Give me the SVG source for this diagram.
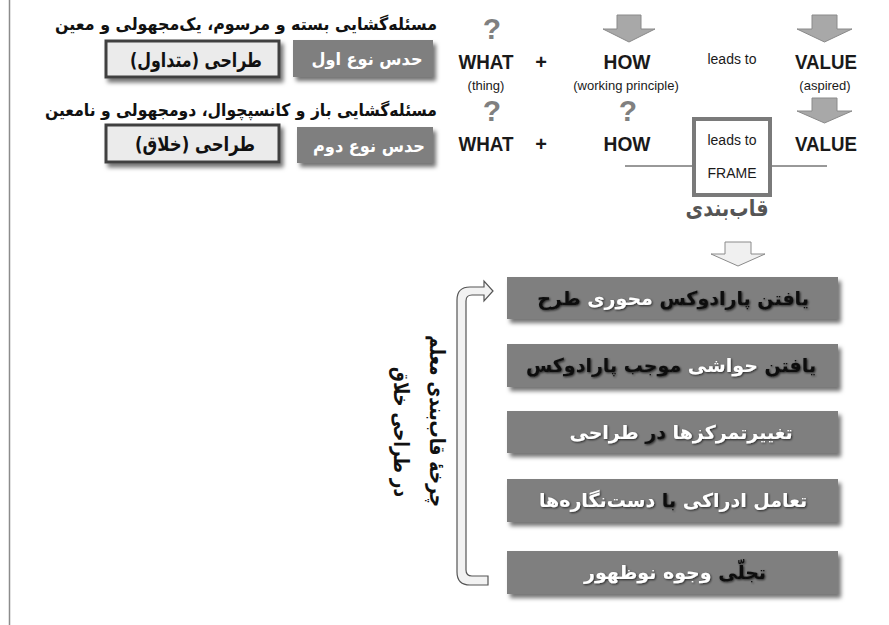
<svg xmlns="http://www.w3.org/2000/svg" width="889" height="625" viewBox="0 0 889 625">
<defs>
<filter id="sh" x="-10%" y="-20%" width="125%" height="160%">
<feDropShadow dx="3" dy="4" stdDeviation="2" flood-color="#000" flood-opacity="0.55"/>
</filter>
<filter id="tsh" x="-5%" y="-20%" width="110%" height="150%">
<feDropShadow dx="1" dy="1" stdDeviation="0.8" flood-color="#000" flood-opacity="0.7"/>
</filter>
</defs>
<style>
.fa{font-family:"DejaVu Sans",sans-serif;font-weight:bold;direction:rtl;unicode-bidi:embed}
.en{font-family:"Liberation Sans",Arial,sans-serif;fill:#1a1a1a}
.big{font-size:20px;font-weight:bold}
.sm{font-size:13px}
.q{font-family:"Liberation Sans",Arial,sans-serif;font-weight:bold;font-size:30px;fill:#808080}
.garrow{fill:#a8a8a8;stroke:#8a8a8a;stroke-width:1}
.warrow{fill:#f0f0f0;stroke:#8a8a8a;stroke-width:1}
.pbox{fill:#7f7f7f}
.ptxt{font-size:19px;fill:#111}
.w{fill:#ffffff}
</style>
<rect width="889" height="625" fill="#ffffff"/>
<line x1="9.5" y1="0" x2="9.5" y2="625" stroke="#8c8c8c" stroke-width="1.5"/>

<g id="title1"><text class="fa" x="246" y="30" font-size="17" text-anchor="middle" fill="#111" textLength="382" lengthAdjust="spacingAndGlyphs">مسئله&#x200C;گشایی بسته و مرسوم، یک&#x200C;مجهولی و معین</text></g>
<g id="box-motadavel"><rect x="106" y="41" width="173" height="36" fill="#ebebeb" stroke="#404040" stroke-width="3" filter="url(#sh)"/><text class="fa" x="196" y="67" font-size="20" text-anchor="middle" fill="#111" textLength="132" lengthAdjust="spacingAndGlyphs">طراحی (متداول)</text></g>
<g id="box-hads1"><rect x="293" y="40" width="140" height="37" fill="#7f7f7f" filter="url(#sh)"/><text class="fa" x="367" y="65" font-size="17" text-anchor="middle" fill="#fff" textLength="111" lengthAdjust="spacingAndGlyphs">حدس نوع اول</text></g>

<g id="title2"><text class="fa" x="241" y="116" font-size="17" text-anchor="middle" fill="#111" textLength="392" lengthAdjust="spacingAndGlyphs">مسئله&#x200C;گشایی باز و کانسپچوال، دومجهولی و نامعین</text></g>
<g id="box-khallagh"><rect x="106" y="125" width="173" height="37" fill="#ebebeb" stroke="#404040" stroke-width="3" filter="url(#sh)"/><text class="fa" x="195" y="151" font-size="20" text-anchor="middle" fill="#111" textLength="120" lengthAdjust="spacingAndGlyphs">طراحی (خلاق)</text></g>
<g id="box-hads2"><rect x="297" y="127" width="136" height="36" fill="#7f7f7f" filter="url(#sh)"/><text class="fa" x="369" y="152" font-size="17" text-anchor="middle" fill="#fff" textLength="112" lengthAdjust="spacingAndGlyphs">حدس نوع دوم</text></g>

<g id="row1">
<text class="q" x="492" y="39" text-anchor="middle">?</text>
<path class="garrow" d="M617 15 H641 V29 H655 L629 42 L603 29 H617 Z"/>
<path class="garrow" d="M812 15 H837 V29 H852 L824.5 42 L797 29 H812 Z"/>
<text class="en big" x="486" y="69" text-anchor="middle" textLength="55" lengthAdjust="spacingAndGlyphs">WHAT</text>
<text class="en big" x="541" y="69" text-anchor="middle">+</text>
<text class="en big" x="627" y="69" text-anchor="middle" textLength="47" lengthAdjust="spacingAndGlyphs">HOW</text>
<text class="en" x="732" y="64" font-size="14" text-anchor="middle">leads to</text>
<text class="en big" x="826" y="69" text-anchor="middle" textLength="62" lengthAdjust="spacingAndGlyphs">VALUE</text>
<text class="en sm" x="486" y="90" text-anchor="middle">(thing)</text>
<text class="en sm" x="626" y="90" text-anchor="middle">(working principle)</text>
<text class="en sm" x="825" y="90" text-anchor="middle">(aspired)</text>
</g>

<g id="row2">
<text class="q" x="492" y="121" text-anchor="middle">?</text>
<text class="q" x="628" y="121" text-anchor="middle">?</text>
<path class="garrow" d="M812 98 H837 V111 H852 L824.5 123 L797 111 H812 Z"/>
<text class="en big" x="486" y="151" text-anchor="middle" textLength="55" lengthAdjust="spacingAndGlyphs">WHAT</text>
<text class="en big" x="541" y="151" text-anchor="middle">+</text>
<text class="en big" x="627" y="151" text-anchor="middle" textLength="47" lengthAdjust="spacingAndGlyphs">HOW</text>
<text class="en big" x="826" y="151" text-anchor="middle" textLength="62" lengthAdjust="spacingAndGlyphs">VALUE</text>
</g>

<g id="frame">
<line x1="625" y1="166" x2="692" y2="166" stroke="#333" stroke-width="1"/>
<line x1="772" y1="166" x2="827" y2="166" stroke="#333" stroke-width="1"/>
<rect x="694" y="119" width="76" height="76" fill="#fff" stroke="#7a7a7a" stroke-width="4"/>
<text class="en" x="732" y="145" font-size="14" text-anchor="middle">leads to</text>
<text class="en" x="732" y="178" font-size="14" text-anchor="middle">FRAME</text>
<text class="fa" x="727" y="216" font-size="23" text-anchor="middle" fill="#555" textLength="83" lengthAdjust="spacingAndGlyphs">قاب&#x200C;بندی</text>
</g>

<g id="arrow-down"><path class="warrow" d="M725 242 H751 V254 H765 L738 266 L711 254 H725 Z"/></g>

<g id="connectors">
<path d="M488 585 L470 585 Q457 585 457 572 L457 300 Q457 287 470 287 L484 287 L484 281 L493 291 L484 301 L484 295 L472 295 Q466 295 466 301 L466 570 Q466 576 472 576 L488 576 Z" fill="#f2f2f2" stroke="#555" stroke-width="1.2"/>
</g>

<g id="cycle-label"><text class="fa" transform="translate(430,421) rotate(90)" font-size="21" text-anchor="middle" fill="#111" textLength="172" lengthAdjust="spacingAndGlyphs">چرخهٔ قاب&#x200C;بندی معلم</text><text class="fa" transform="translate(394,432) rotate(90)" font-size="21" text-anchor="middle" fill="#111" textLength="130" lengthAdjust="spacingAndGlyphs">در طراحی خلاق</text></g>

<g id="step1"><rect class="pbox" x="507" y="277" width="331" height="42" filter="url(#sh)"/><text class="fa ptxt" x="673" y="305" text-anchor="middle" filter="url(#tsh)">یافتن پارادوکس <tspan class="w">محوری</tspan> طرح</text></g>
<g id="step2"><rect class="pbox" x="507" y="344" width="331" height="43" filter="url(#sh)"/><text class="fa ptxt" x="671" y="372" text-anchor="middle" filter="url(#tsh)">یافتن <tspan class="w">حواشی</tspan> موجب پارادوکس</text></g>
<g id="step3"><rect class="pbox" x="507" y="411" width="331" height="42" filter="url(#sh)"/><text class="fa ptxt" x="681" y="439" text-anchor="middle" filter="url(#tsh)"><tspan class="w">تغییرتمرکزها</tspan> در <tspan class="w">طراحی</tspan></text></g>
<g id="step4"><rect class="pbox" x="507" y="479" width="331" height="43" filter="url(#sh)"/><text class="fa ptxt" x="673" y="507" text-anchor="middle" filter="url(#tsh)"><tspan class="w">تعامل ادراکی</tspan> با <tspan class="w">دست&#x200C;نگاره&#x200C;ها</tspan></text></g>
<g id="step5"><rect class="pbox" x="507" y="551" width="331" height="43" filter="url(#sh)"/><text class="fa ptxt" x="675" y="579" text-anchor="middle" filter="url(#tsh)">تجلّی <tspan class="w">وجوه نوظهور</tspan></text></g>
</svg>
